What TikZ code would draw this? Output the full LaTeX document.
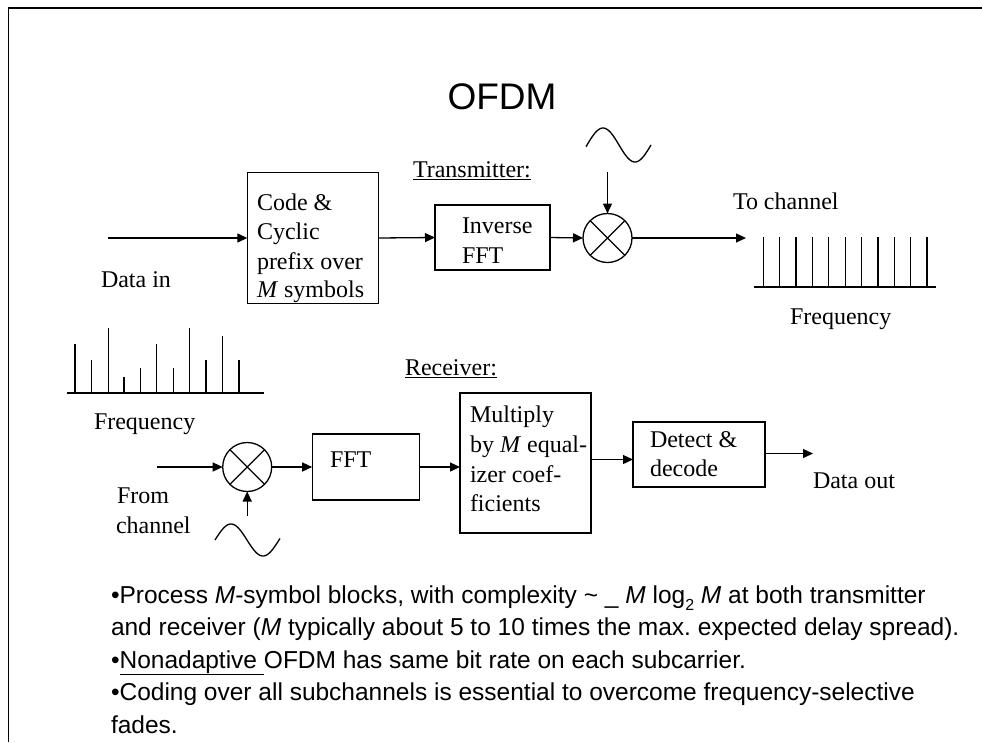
\documentclass[tikz,border=0pt]{standalone}
\usepackage{fontspec}
\setmainfont{Liberation Serif}
\newfontfamily\arial{Liberation Sans}
\usetikzlibrary{arrows.meta}
\frenchspacing
\tikzset{
  tmr/.style={font=\fontsize{24}{29}\selectfont},
  txt/.style={anchor=base west, inner sep=0pt, outer sep=0pt, tmr},
  blk/.style={draw, line width=1.3pt, inner sep=0pt, outer sep=0pt},
  mix/.style={draw, circle, line width=1.3pt, minimum size=49pt, inner sep=0pt, outer sep=0pt},
  arr/.style={line width=1.3pt, -{Triangle[length=10pt,width=9pt]}},
  bul/.style={anchor=base west, inner sep=0pt, outer sep=0pt, font=\arial\fontsize{24.5}{30}\selectfont},
}
\begin{document}
\begin{tikzpicture}[x=1pt,y=-1pt]
\useasboundingbox (0,0) rectangle (982,742);
% frame
\draw[line width=1.5pt] (8.5,742) -- (8.5,8) -- (982,8);
% title
\node[anchor=base, inner sep=0pt, font=\arial\fontsize{37}{40}\selectfont] (title) at (502,109) {OFDM};

% ---------- transmitter ----------
\node[txt] (tlabel) at (413,177) {\underline{Transmitter:}};
\node[blk, minimum width=131pt, minimum height=131pt] (code) at (312.8,238) {};
\node[txt] (c1) at (257,210) {Code \&};
\node[txt] (c2) at (257,239.5) {Cyclic};
\node[txt] (c3) at (257,269) {prefix over};
\node[txt] (c4) at (257,297.5) {\textit{M} symbols};
\node[blk, minimum width=115pt, minimum height=65pt] (ifft) at (492.5,237.5) {};
\node[txt] (i1) at (462,233) {Inverse};
\node[txt] (i2) at (462,263) {FFT};
\node[mix] (m1) at (607.5,238) {};
\draw[line width=1.3pt] (m1.north west) -- (m1.south east) (m1.north east) -- (m1.south west);
\coordinate (din) at (108,238);
\coordinate (tx) at (746,238);
\coordinate (osc1) at (607.5,172);
\draw[arr] (din) -- (code.west);
\draw[arr] (code.east) -- (ifft.west);
\draw[arr] (ifft.east) -- (m1.west);
\draw[arr] (osc1) -- (m1.north);
\draw[arr] (m1.east) -- (tx);
\draw[line width=1.3pt, domain=586:651, samples=60, smooth] plot (\x, {145-17*sin(5.625*(\x-587))});
\node[txt] (datain) at (101,287) {Data in};
\node[txt] (tochan) at (733,209) {To channel};
% output spectrum
\draw[line width=1.3pt] (754,287) -- (936,287);
\foreach \i in {0,...,10} \draw[line width=1.3pt] ({763.3+16.37*\i},237) -- ({763.3+16.37*\i},287);
\node[txt] (freq1) at (790,324) {Frequency};

% input spectrum
\draw[line width=1.3pt] (67,393) -- (264,393);
\foreach \xx/\yy in {75/344, 91.7/360, 108.3/327.7, 124/376.7, 140.7/368.3, 156.7/344, 173.3/368.3, 189.3/327.7, 206/360, 222.7/335.7, 239/360}
  \draw[line width=1.3pt] (\xx,\yy) -- (\xx,393);
\node[txt] (freq2) at (94,429) {Frequency};

% ---------- receiver ----------
\node[txt] (rlabel) at (405,375) {\underline{Receiver:}};
\node[mix] (m2) at (247.2,467) {};
\draw[line width=1.3pt] (m2.north west) -- (m2.south east) (m2.north east) -- (m2.south west);
\node[blk, minimum width=107pt, minimum height=66pt] (fft) at (365.7,467) {};
\node[txt] (f1) at (330,467) {FFT};
\node[blk, minimum width=131pt, minimum height=140pt] (mul) at (525.5,463) {};
\node[txt] (e1) at (470,422) {Multiply};
\node[txt] (e2) at (470,452) {by \textit{M} equal-};
\node[txt] (e3) at (470,482) {izer coef-};
\node[txt] (e4) at (470,511) {ficients};
\node[blk, minimum width=132pt, minimum height=65pt] (det) at (699,454.5) {};
\node[txt] (d1) at (650,447) {Detect \&};
\node[txt] (d2) at (650,476) {decode};
\coordinate (rin) at (157,467);
\coordinate (osc2) at (247.2,516);
\coordinate (rout) at (813,453.5);
\draw[arr] (rin) -- (m2.west);
\draw[arr] (osc2) -- (m2.south);
\draw[arr] (m2.east) -- (fft.west);
\draw[arr] (fft.east) -- (mul.west |- fft.east);
\draw[arr] (mul.east |- 0,459.5) -- (det.west |- 0,459.5);
\draw[arr] (det.east |- rout) -- (rout);
\draw[line width=1.3pt, domain=215:280, samples=60, smooth] plot (\x, {540-16*sin(5.625*(\x-215))});
\node[txt] (dout) at (813,488) {Data out};
\node[txt] (from1) at (117,503) {From};
\node[txt] (from2) at (116,533) {channel};

% ---------- bullets ----------
\node[bul] (b1) at (111,603) {\textbullet Process \textit{M}-symbol blocks, with complexity \textasciitilde{} \_ \textit{M} log\raisebox{-0.3em}{\fontsize{16}{16}\selectfont 2} \textit{M} at both transmitter};
\node[bul] (b2) at (111,635.5) {and receiver (\textit{M} typically about 5 to 10 times the max. expected delay spread).};
\node[bul] (b3) at (111,668) {\textbullet\underline{Nonadaptive\ }OFDM has same bit rate on each subcarrier.};
\node[bul] (b4) at (111,700.5) {\textbullet Coding over all subchannels is essential to overcome frequency-selective};
\node[bul] (b5) at (111,733) {fades.};
\end{tikzpicture}
\end{document}
